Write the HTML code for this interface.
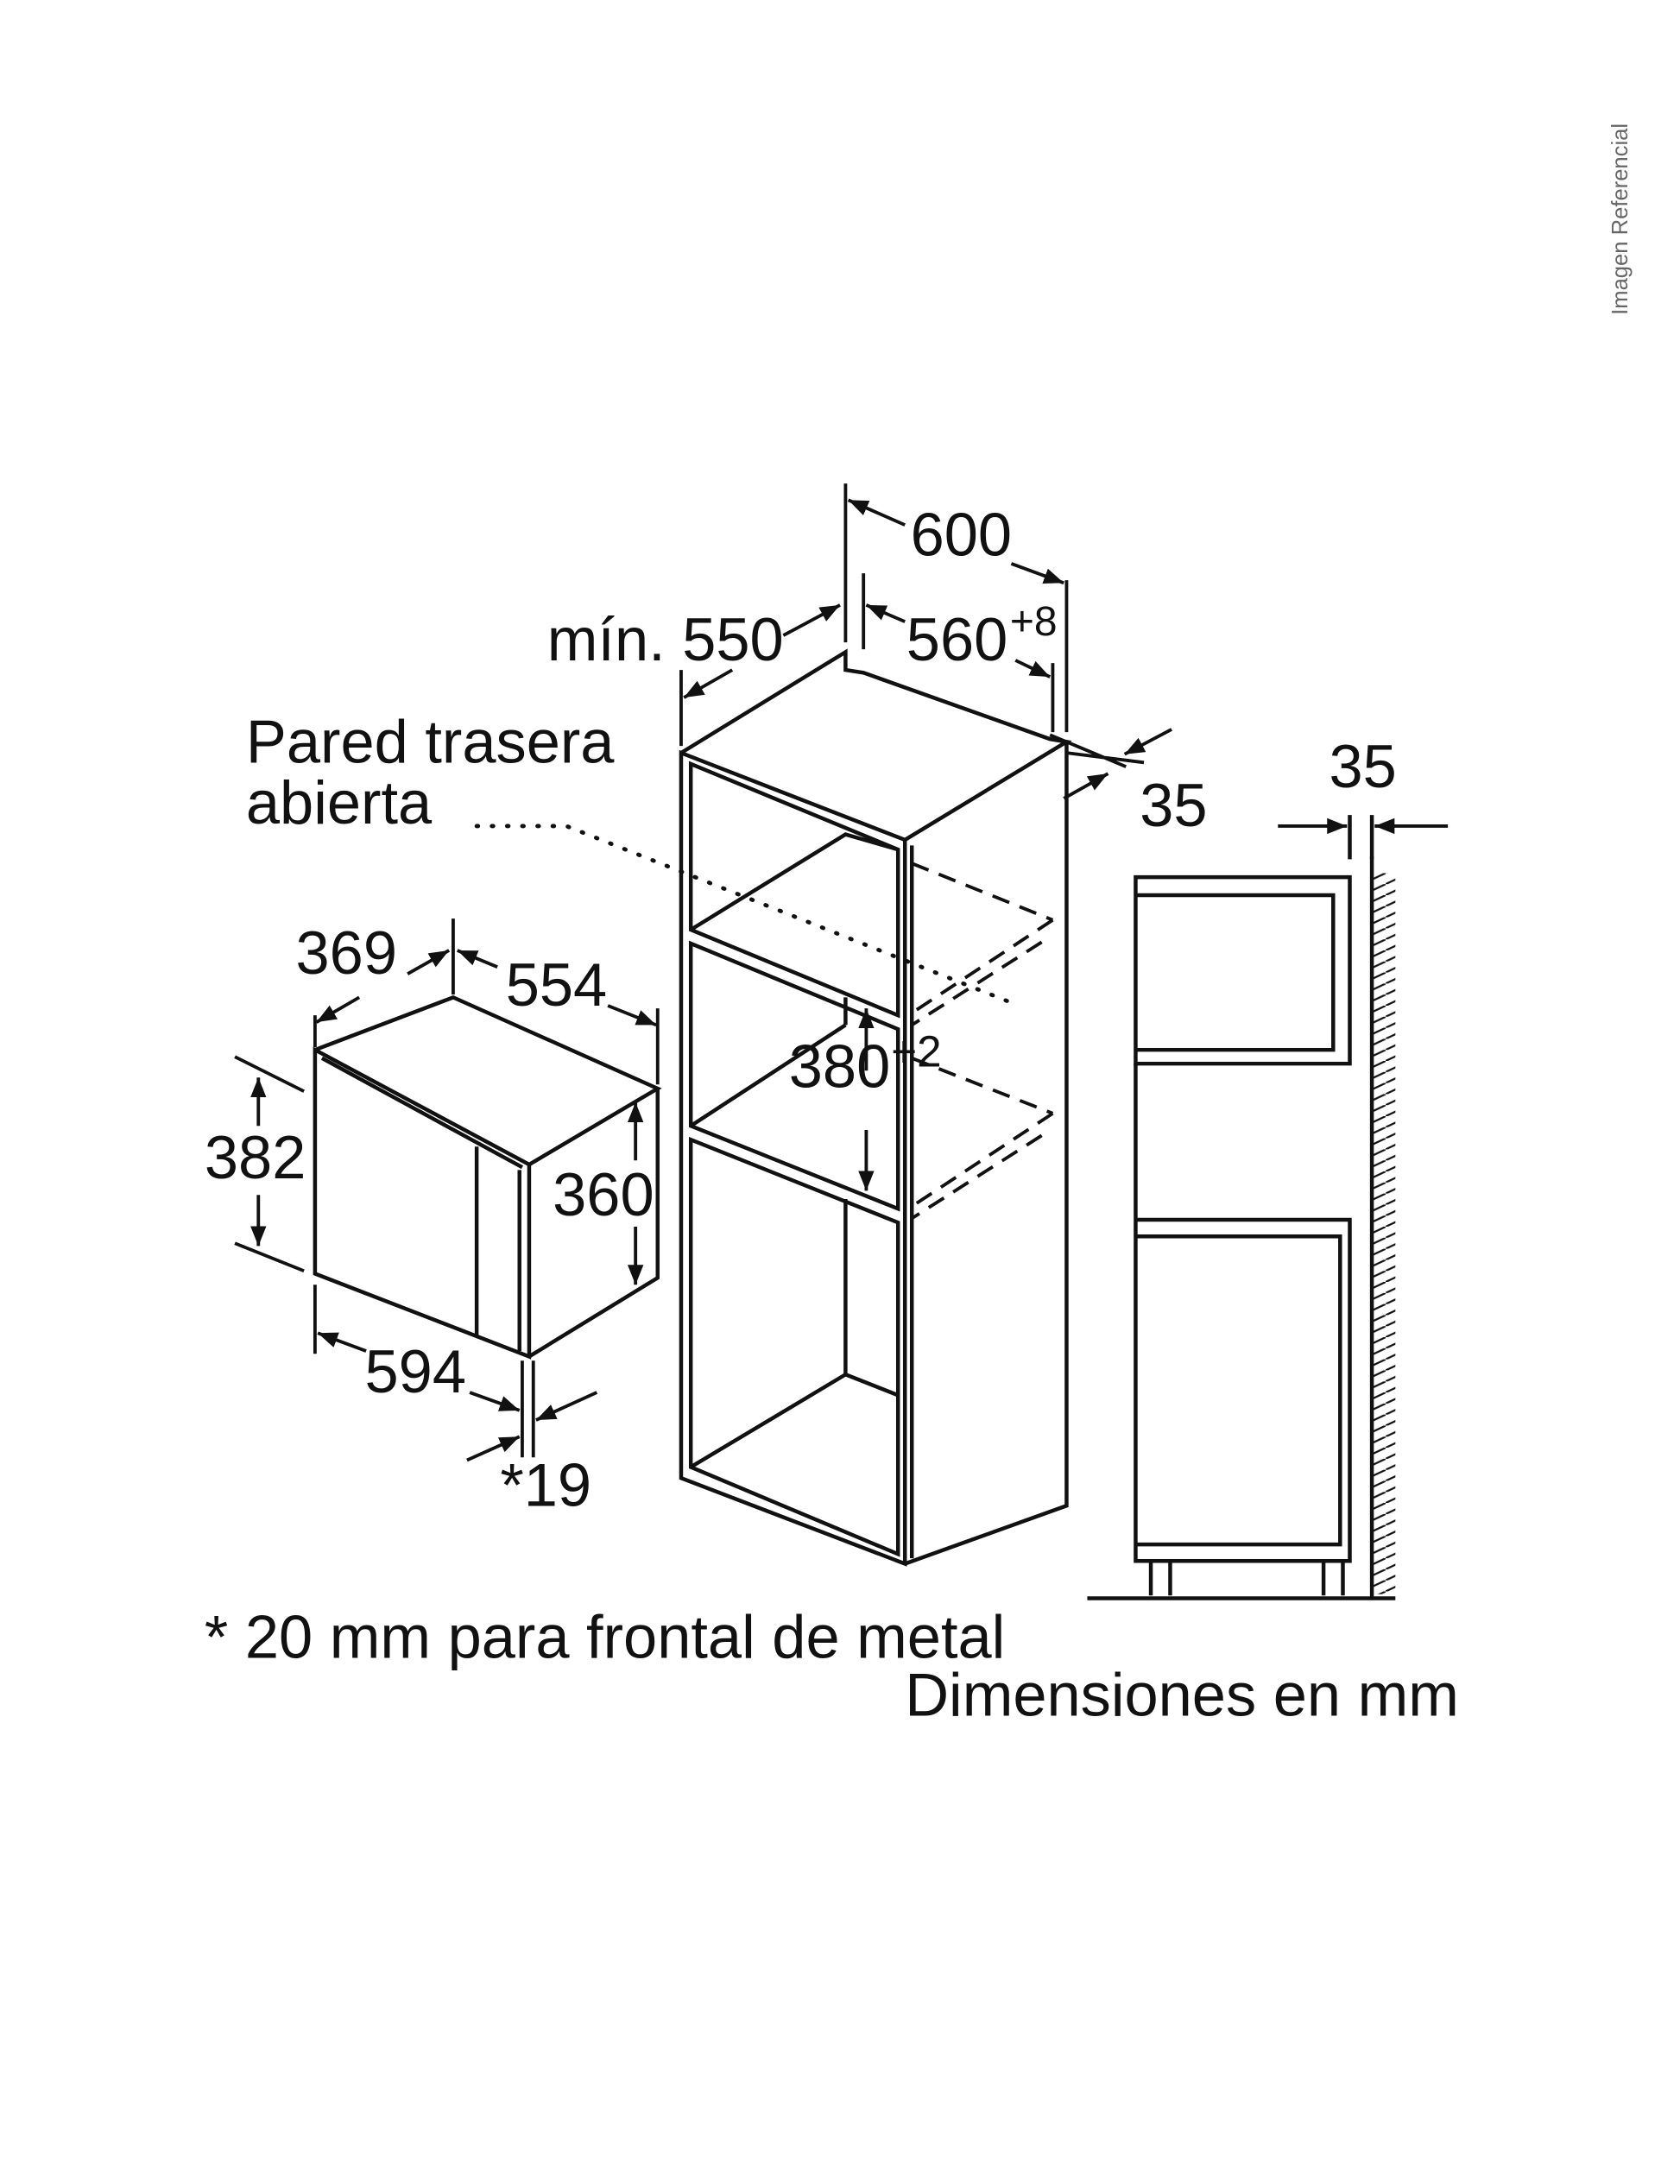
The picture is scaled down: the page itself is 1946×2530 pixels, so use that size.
<!DOCTYPE html>
<html><head><meta charset="utf-8"><style>
html,body{margin:0;padding:0;background:#fff;}
svg{display:block;}
text{font-family:"Liberation Sans",Arial,sans-serif;fill:#111;}
</style></head><body>
<svg width="1946" height="2530" viewBox="0 0 1216 1581" xmlns="http://www.w3.org/2000/svg">
<defs>
<marker id="a" viewBox="0 0 10 10" refX="10" refY="5" markerWidth="6" markerHeight="6" orient="auto-start-reverse"><path d="M0,1 L10,5 L0,9 Z" fill="#111"/></marker>
<pattern id="h" width="17" height="8" patternUnits="userSpaceOnUse"><path d="M0,8 L17,0" stroke="#111" stroke-width="1.4"/></pattern>
</defs>
<text x="1178" y="228" font-size="16" fill="#666" style="fill:#666" transform="rotate(-90 1178 228)">Imagen Referencial</text>
<g stroke="#111" stroke-width="2.8" fill="none" stroke-linejoin="miter">
<path d="M228,760 L383,843 L383,982 L228,922 Z"/>
<path d="M228,760 L328,722 L476,788 L383,843"/>
<path d="M476,788 L476,925 L383,982"/>
<path d="M233,766 L378,845"/>
<path d="M345,830 L345,968"/>
<path d="M376,847 L376,978"/>
<path d="M493,545 L493,1070 L655,1132 L655,608 Z"/>
<path d="M493,545 L612,472 L612,485 L625,487 L760,535 L772,537 L655,608"/>
<path d="M772,537 L772,1090 L655,1132"/>
<path d="M500,553 L650,615 L650,735 L500,673 Z"/>
<path d="M500,673 L612,604 L650,615"/>
<path d="M500,683 L650,745 L650,875 L500,815 Z"/>
<path d="M500,815 L612,742"/>
<path d="M612,722 L612,742"/>
<path d="M500,825 L650,885 L650,1125 L500,1062 Z"/>
<path d="M612,868 L612,995 L650,1010"/>
<path d="M500,1062 L612,995"/>
<path d="M660,612 L660,1128"/>
</g>
<g stroke="#111" stroke-width="2.4" fill="none" stroke-dasharray="13,8">
<path d="M660,625 L762,666"/>
<path d="M762,666 L662,732"/>
<path d="M754,682 L660,742"/>
<path d="M660,766 L762,806"/>
<path d="M762,806 L662,872"/>
<path d="M754,822 L660,882"/>
</g>
<path d="M345,598 L410,598 L735,727" stroke="#111" stroke-width="3" fill="none" stroke-dasharray="1,10" stroke-linecap="round"/>
<g stroke="#111" stroke-width="2.8" fill="none">
<path d="M822,635 L977,635 L977,770 L822,770 Z"/>
<path d="M822,648 L965,648 L965,760 L822,760"/>
<path d="M822,770 L822,1130 L977,1130 L977,883 L822,883"/>
<path d="M822,895 L970,895 L970,1118 L822,1118"/>
<path d="M833,1130 L833,1155 M847,1130 L847,1155 M958,1130 L958,1155 M972,1130 L972,1155"/>
<path d="M787,1157 L1010,1157"/>
<path d="M993,620 L993,1157"/>
<path d="M977,590 L977,622 M993,590 L993,622"/>
</g>
<rect x="994" y="632" width="16" height="522" fill="url(#h)"/>
<g stroke="#111" stroke-width="2.4" fill="none">
<path d="M612,350 L612,465 M772,420 L772,530"/>
<path d="M625,415 L625,470 M762,480 L762,530"/>
<path d="M493,485 L493,540"/>
<path d="M228,735 L228,758 M328,665 L328,720 M476,730 L476,785"/>
<path d="M170,765 L220,790 M170,900 L220,920"/>
<path d="M228,930 L228,980 M378,985 L378,1055 M386,985 L386,1055"/>
<path d="M760,532 L815,555 M772,545 L828,552"/>
<line x1="655" y1="380" x2="614" y2="362" marker-end="url(#a)"/>
<line x1="732" y1="408" x2="770" y2="422" marker-end="url(#a)"/>
<line x1="655" y1="450" x2="627" y2="438" marker-end="url(#a)"/>
<line x1="735" y1="478" x2="760" y2="490" marker-end="url(#a)"/>
<line x1="567" y1="460" x2="608" y2="438" marker-end="url(#a)"/>
<line x1="530" y1="485" x2="495" y2="505" marker-end="url(#a)"/>
<line x1="848" y1="528" x2="814" y2="546" marker-end="url(#a)"/>
<line x1="770" y1="578" x2="802" y2="560" marker-end="url(#a)"/>
<line x1="260" y1="722" x2="229" y2="740" marker-end="url(#a)"/>
<line x1="295" y1="705" x2="325" y2="688" marker-end="url(#a)"/>
<line x1="360" y1="700" x2="331" y2="688" marker-end="url(#a)"/>
<line x1="440" y1="728" x2="475" y2="742" marker-end="url(#a)"/>
<line x1="187" y1="815" x2="187" y2="780" marker-end="url(#a)"/>
<line x1="187" y1="865" x2="187" y2="902" marker-end="url(#a)"/>
<line x1="460" y1="840" x2="460" y2="798" marker-end="url(#a)"/>
<line x1="460" y1="888" x2="460" y2="930" marker-end="url(#a)"/>
<line x1="265" y1="978" x2="230" y2="965" marker-end="url(#a)"/>
<line x1="340" y1="1008" x2="376" y2="1021" marker-end="url(#a)"/>
<line x1="432" y1="1008" x2="388" y2="1028" marker-end="url(#a)"/>
<line x1="338" y1="1057" x2="376" y2="1040" marker-end="url(#a)"/>
<line x1="627" y1="775" x2="627" y2="730" marker-end="url(#a)"/>
<line x1="627" y1="818" x2="627" y2="862" marker-end="url(#a)"/>
<line x1="925" y1="598" x2="975" y2="598" marker-end="url(#a)"/>
<line x1="1048" y1="598" x2="995" y2="598" marker-end="url(#a)"/>
</g>
<g font-size="44">
<text x="659" y="402">600</text>
<text x="656" y="478">560</text><text x="731" y="460" font-size="30">+8</text>
<text x="396" y="478">mín. 550</text>
<text x="825" y="598">35</text>
<text x="962" y="570">35</text>
<text x="178" y="552">Pared trasera</text>
<text x="178" y="596">abierta</text>
<text x="214" y="705">369</text>
<text x="366" y="728">554</text>
<text x="148" y="853">382</text>
<text x="400" y="880">360</text>
<text x="264" y="1008">594</text>
<text x="362" y="1090">*19</text>
<text x="571" y="787">380</text><text x="645" y="772" font-size="32">+2</text>
<text x="148" y="1200">* 20 mm para frontal de metal</text>
<text x="655" y="1242">Dimensiones en mm</text>
</g>
</svg>
</body></html>
